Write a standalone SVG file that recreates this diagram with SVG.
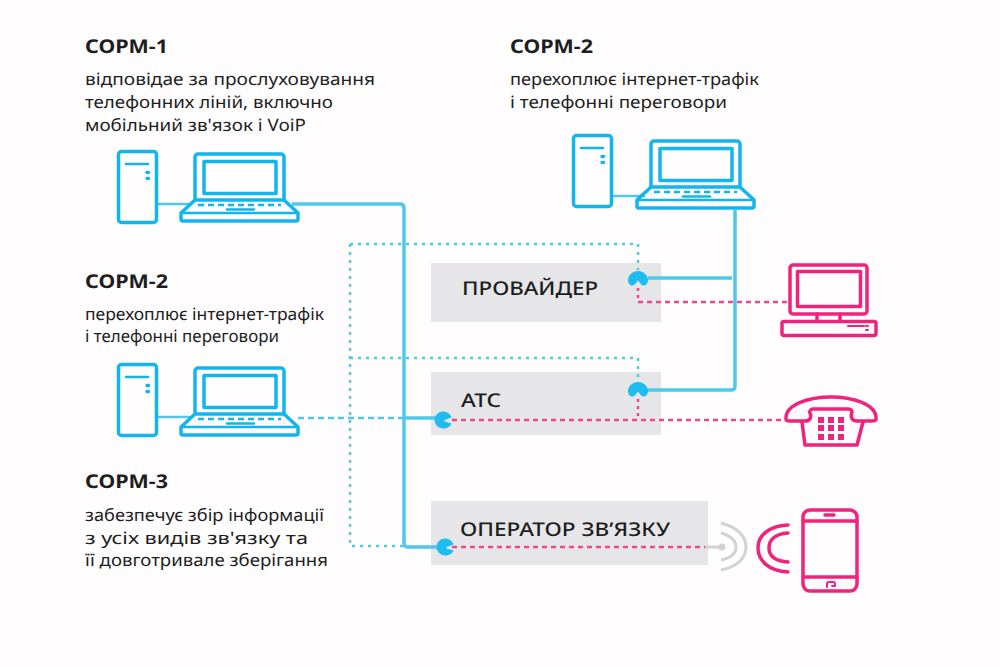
<svg xmlns="http://www.w3.org/2000/svg" xmlns:xlink="http://www.w3.org/1999/xlink" width="1000" height="667" viewBox="0 0 1000 667">
<style>
.t{font-family:"Noto Sans","Open Sans","Liberation Sans",sans-serif;fill:#1e1e1e}
.h{font-size:19px;font-weight:700}
.b{font-size:17px}
.l{font-size:19px;font-weight:500}
.bl{fill:none;stroke:#12b5ee;stroke-width:3.500;stroke-linejoin:round;stroke-linecap:round}
.pk{fill:none;stroke:#f0237c;stroke-width:3.500;stroke-linejoin:round;stroke-linecap:round}
.box{fill:#e6e6e8}
.solid{fill:none;stroke:#4fc8ea;stroke-width:3.500;stroke-linejoin:round}
.thin{fill:none;stroke:#4fc8ea;stroke-width:2.500}
.dot{fill:none;stroke:#4fcbdc;stroke-width:2.500;stroke-dasharray:3 5}
.dash{fill:none;stroke:#4fc8ea;stroke-width:2.500;stroke-dasharray:6 4}
.pd{fill:none;stroke:#f0478c;stroke-width:2.500;stroke-dasharray:5 4}
.pdot{fill:none;stroke:#f0478c;stroke-width:2.500;stroke-dasharray:3 4}
.gr{fill:none;stroke:#d2d2d2;stroke-width:3}
.j{fill:#1fbcf0}
text{text-rendering:geometricPrecision}
</style>
<defs>
<g id="tower">
<rect x="1.500" y="1.500" width="38" height="71" rx="3" class="bl"/>
<path d="M9 14H31" class="bl" style="stroke-width:2.500"/>
<path d="M30 22.500h1.500M30 28.500h1.500" class="bl"/>
</g>
<g id="laptop">
<path d="M15 47V4a3 3 0 0 1 3-3H101a3 3 0 0 1 3 3V47" class="bl"/>
<rect x="24" y="8.500" width="72" height="32" class="bl"/>
<path d="M15 47H104L118 60V66a2 2 0 0 1-2 2H3a2 2 0 0 1-2-2V60Z" class="bl"/>
<path d="M1.500 60H118" class="bl" style="stroke-width:2.500"/>
<path d="M18 52H101" class="bl" style="stroke-dasharray:6 4;stroke-linecap:butt;stroke-width:2.500"/>
<path d="M47 56.500H74" class="bl" style="stroke-width:2.500"/>
</g>
<path id="heart" d="M0 -8C5.500 -8 10 -3.500 10 1C10 4.500 8 6.500 5.500 6.500C3 6.500 1.500 3 0 1.500C-1.500 3 -3 6.500 -5.500 6.500C-8 6.500 -10 4.500 -10 1C-10 -3.500 -5.500 -8 0 -8Z" class="j"/>
<path id="pac" d="M0 -8.500A8.500 8.500 0 1 0 0 8.500C4 8.500 7.500 6.500 8.500 3.500L1.500 1.500V0L8.500 -2.500C7.500 -6 4 -8.500 0 -8.500Z" class="j"/>
</defs>
<rect width="1000" height="667" fill="#fffdfe"/>

<g id="box-provider"><rect x="431" y="263" width="230" height="59" class="box"/><text x="462" y="295" class="t l" textLength="136" lengthAdjust="spacingAndGlyphs">ПРОВАЙДЕР</text></g>
<g id="box-ats"><rect x="431" y="372" width="230" height="63" class="box"/><text x="461" y="407" class="t l" textLength="40" lengthAdjust="spacingAndGlyphs">АТС</text></g>
<g id="box-operator"><rect x="431" y="501" width="277" height="64" class="box"/><text x="460" y="536" class="t l" textLength="210" lengthAdjust="spacingAndGlyphs">ОПЕРАТОР ЗВ’ЯЗКУ</text></g>

<g id="connectors">
<path d="M157 204H190" class="thin"/>
<path d="M292 204H400Q404 204 404 208V543Q404 547 408 547H438" class="solid"/>
<path d="M612 196H645" class="thin"/>
<path d="M735 210V386Q735 390 731 390H646" class="solid"/>
<path d="M648 278H732" class="solid"/>
<path d="M404 418H438" class="solid"/>
<path d="M157 417H190" class="thin"/>
<path d="M298 418H404" class="dash"/>
<path d="M350 244V546H403" class="dot"/>
<path d="M350 244H638V270" class="dot"/>
<path d="M350 358H638V380" class="dot"/>
<path d="M638 288V302" class="pdot"/>
<path d="M638 302H789" class="pd"/>
<path d="M638 399V420" class="pdot"/>
<path d="M452 420H786" class="pd"/>
<path d="M452 547H705" class="pd"/>
<path d="M705 547H722" class="gr"/>
</g>

<g id="joints">
<use xlink:href="#heart" href="#heart" x="638" y="279"/>
<use xlink:href="#heart" href="#heart" x="638" y="390"/>
<use xlink:href="#pac" href="#pac" x="443" y="420"/>
<use xlink:href="#pac" href="#pac" x="445" y="547"/>
</g>

<g id="sorm1">
<text x="85" y="53" class="t h" textLength="83" lengthAdjust="spacingAndGlyphs">СОРМ-1</text>
<text x="85" y="85" class="t b" textLength="290" lengthAdjust="spacingAndGlyphs">відповідае за прослуховування</text>
<text x="85" y="108" class="t b" textLength="248" lengthAdjust="spacingAndGlyphs">телефонних ліній, включно</text>
<text x="85" y="131" class="t b" textLength="221" lengthAdjust="spacingAndGlyphs">мобільний зв'язок і VoiP</text>
<use xlink:href="#tower" href="#tower" x="117" y="150"/>
<use xlink:href="#laptop" href="#laptop" x="180" y="153"/>
</g>
<g id="sorm2-top">
<text x="510" y="53" class="t h" textLength="83" lengthAdjust="spacingAndGlyphs">СОРМ-2</text>
<text x="510" y="85" class="t b" textLength="249" lengthAdjust="spacingAndGlyphs">перехоплює інтернет-трафік</text>
<text x="510" y="108" class="t b" textLength="217" lengthAdjust="spacingAndGlyphs">і телефонні переговори</text>
<use xlink:href="#tower" href="#tower" x="572" y="134"/>
<use xlink:href="#laptop" href="#laptop" x="636" y="140"/>
</g>
<g id="sorm2-left">
<text x="85" y="288" class="t h" textLength="83" lengthAdjust="spacingAndGlyphs">СОРМ-2</text>
<text x="85" y="320" class="t b" textLength="239" lengthAdjust="spacingAndGlyphs">перехоплює інтернет-трафік</text>
<text x="85" y="342" class="t b" textLength="194" lengthAdjust="spacingAndGlyphs">і телефонні переговори</text>
<use xlink:href="#tower" href="#tower" x="117" y="363"/>
<use xlink:href="#laptop" href="#laptop" x="180" y="367"/>
</g>
<g id="sorm3">
<text x="85" y="488" class="t h" textLength="83" lengthAdjust="spacingAndGlyphs">СОРМ-3</text>
<text x="85" y="521" class="t b" textLength="239" lengthAdjust="spacingAndGlyphs">забезпечує збір інформації</text>
<text x="85" y="544" class="t b" textLength="223" lengthAdjust="spacingAndGlyphs">з усіх видів зв'язку та</text>
<text x="85" y="566" class="t b" textLength="243" lengthAdjust="spacingAndGlyphs">її довготривале зберігання</text>
</g>

<g id="computer">
<rect x="790" y="265" width="77" height="49" rx="3" class="pk"/>
<rect x="797.500" y="271.500" width="63" height="35" class="pk"/>
<path d="M817 314V321M840 314V321" class="pk"/>
<rect x="782" y="321.500" width="94" height="14" rx="2" class="pk"/>
<path d="M848 326H864M866 326h2M866 330h2" class="pk" style="stroke-width:2"/>
</g>
<g id="telephone">
<path d="M786 419C785 404 810 397 831 397C852 397 877 404 876 419C876 421 874 421 872 421H857C852 421 850 417 852 412C852 410 850 409 848 409H813C811 409 809 411 810 413C812 417 810 421 805 421H790C788 421 786 421 786 419Z" class="pk"/>
<path d="M802 422L805 445H857L863 422" class="pk"/>
<g fill="#f0237c">
<rect x="818" y="417" width="6" height="6"/><rect x="828" y="417" width="6" height="6"/><rect x="838" y="417" width="6" height="6"/>
<rect x="818" y="425" width="6" height="6"/><rect x="828" y="425" width="6" height="6"/><rect x="838" y="425" width="6" height="6"/>
<rect x="818" y="434" width="6" height="6"/><rect x="828" y="434" width="6" height="6"/><rect x="838" y="434" width="6" height="6"/>
</g>
</g>
<g id="signal">
<circle cx="722" cy="547" r="3.500" fill="#d2d2d2"/>
<path d="M721 533C731 536 736 541 736 547C736 553 731 558 721 560" class="gr"/>
<path d="M721 523C737 527 746 536 746 547C746 558 737 567 721 570" class="gr"/>
</g>
<g id="mobile">
<rect x="803" y="510" width="54" height="81" rx="7" class="pk"/>
<path d="M803 521H857M803 577H857" class="pk"/>
<path d="M825 515H834" class="pk"/>
<path d="M827 587V584Q827 582 829 582H833Q835 582 835 584V586H832" class="pk" style="stroke-width:2"/>
<path d="M788 525C768 526 758 536 758 548C758 560 768 571 788 572" class="pk"/>
<path d="M788 533C775 534 769 540 769 548C769 556 775 561 788 562" class="pk"/>
</g>
</svg>
